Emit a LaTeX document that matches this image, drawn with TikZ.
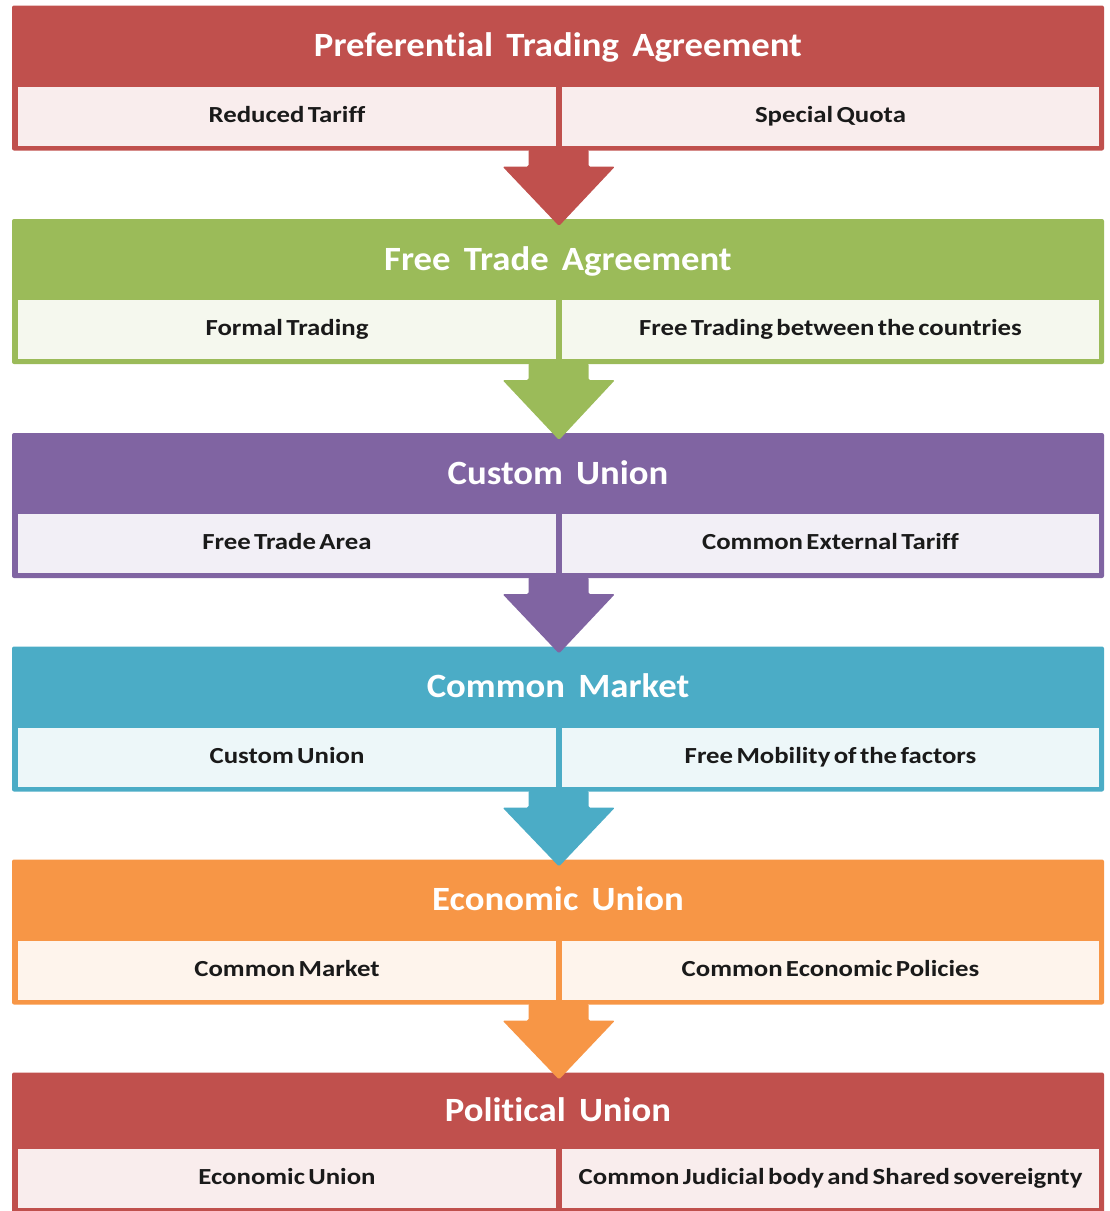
\documentclass[tikz,border=0pt]{standalone}
\usepackage{fontspec}
\setmainfont{Carlito}
\newfontfamily\cellfont[FakeStretch=1.165, WordSpace={0.55}, Ligatures={NoCommon}]{Carlito}
\newfontfamily\headfont[FakeStretch=1.08, WordSpace={1.6}, Ligatures={NoCommon}]{Carlito}
\usetikzlibrary{calc}
\definecolor{cRed}{HTML}{C0504D}
\definecolor{cGreen}{HTML}{9BBB59}
\definecolor{cPurple}{HTML}{8064A2}
\definecolor{cTeal}{HTML}{4BACC6}
\definecolor{cOrange}{HTML}{F79646}
\definecolor{txt}{HTML}{1A1A1A}
\tikzset{
  outerbox/.style={draw=none, fill=#1, minimum width=1092pt, minimum height=145pt, inner sep=0pt, outer sep=0pt, rounded corners=2pt},
  headtext/.style={text=white, font=\headfont\bfseries\fontsize{34}{38}\selectfont, inner sep=0pt, text height=25pt, text depth=4pt},
  cellbox/.style={fill=#1!10!white, draw=none, minimum height=59pt, inner sep=0pt, outer sep=0pt, text=txt, font=\cellfont\bfseries\fontsize{23}{26}\selectfont, text height=17pt, text depth=5pt},
  leftcell/.style={cellbox=#1, minimum width=538pt},
  rightcell/.style={cellbox=#1, minimum width=537pt},
  blockarrow/.style={fill=#1, draw=none, rounded corners=1.5pt},
}
\newcommand{\flowblock}[7]{%
  % #1 name, #2 top y, #3 colour, #4 title, #5 left, #6 right, #7 header height
  \node[outerbox=#3, anchor=north] (#1) at (558,#2) {};
  \node[headtext] (#1h) at ($(#1.north)+(0,#7/2)$) {#4};
  \node[leftcell=#3] (#1l) at ($(#1.north west)+(275,#7+29.5)$) {#5};
  \node[rightcell=#3] (#1r) at ($(#1.north east)+(-273.5,#7+29.5)$) {#6};
}
\newcommand{\flowarrow}[3]{%
  % #1 from block, #2 to block, #3 colour
  \fill[blockarrow=#3]
    ($(#1.south)+(-29.5,-1)$) -- ($(#1.south)+(-29.5,16)$) -- ($(#1.south)+(-55.5,16)$)
    -- ($(#2.north)+(1,7)$)
    -- ($(#1.south)+(57,16)$) -- ($(#1.south)+(30.5,16)$) -- ($(#1.south)+(30.5,-1)$) -- cycle;
}
\begin{document}
\begin{tikzpicture}[x=1pt,y=-1pt]
\useasboundingbox (0,0) rectangle (1110,1211);
\clip (0,0) rectangle (1110,1211);
\flowblock{pta}{5.5}{cRed}{Preferential Trading Agreement}{Reduced Tariff}{Special Quota}{81}
\flowblock{fta}{219}{cGreen}{Free Trade Agreement}{Formal Trading}{Free Trading between the countries}{81}
\flowblock{cu}{433}{cPurple}{Custom Union}{Free Trade Area}{Common External Tariff}{81}
\flowblock{cm}{646.5}{cTeal}{Common Market}{Custom Union}{Free Mobility of the factors}{81}
\flowblock{eu}{859.5}{cOrange}{Economic Union}{Common Market}{Common Economic Policies}{81}
\flowblock{pu}{1072.5}{cRed}{Political Union}{Economic Union}{Common Judicial body and Shared sovereignty}{76.5}
\flowarrow{pta}{fta}{cRed}
\flowarrow{fta}{cu}{cGreen}
\flowarrow{cu}{cm}{cPurple}
\flowarrow{cm}{eu}{cTeal}
\flowarrow{eu}{pu}{cOrange}
\end{tikzpicture}
\end{document}
